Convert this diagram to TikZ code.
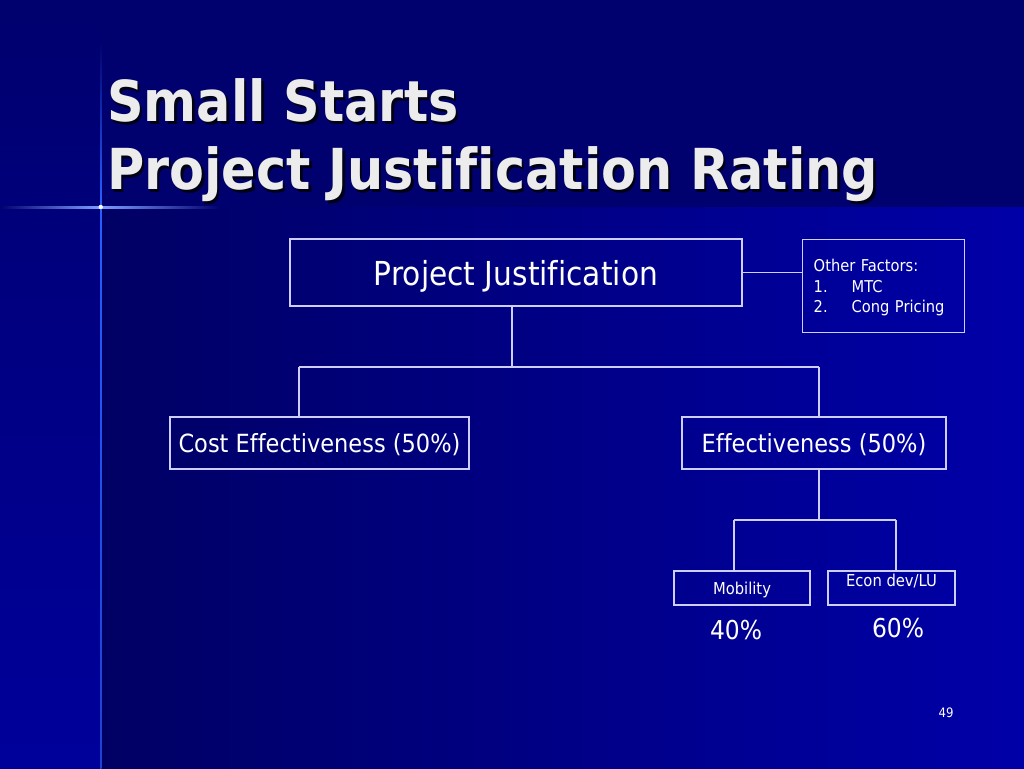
\documentclass[tikz,border=0pt]{standalone}
\usepackage{fontspec}
\setmainfont{DejaVu Sans}[FakeStretch=0.9,Ligatures=NoCommon]
\usepackage{tikz}
\usetikzlibrary{arrows,backgrounds}
\definecolor{slidenavy}{RGB}{0,0,110}
\definecolor{slidedark}{RGB}{0,0,100}
\definecolor{slideblue}{RGB}{0,0,168}
\definecolor{stripblue}{RGB}{0,0,155}
\definecolor{linelav}{RGB}{205,205,255}
\definecolor{titlegray}{RGB}{236,236,236}
\definecolor{glowblue}{RGB}{40,95,255}
\tikzset{frame/.style={draw=linelav,line width=1.4pt,text=white,inner sep=0pt},
         box/.style={frame,text depth=0pt},
         wire/.style={draw=linelav,line width=1.2pt},
         ttl/.style={anchor=base west,inner sep=0pt,font=\bfseries\fontsize{56.5}{60}\selectfont},}
\begin{document}
\begin{tikzpicture}[x=1pt,y=-1pt]
          \useasboundingbox (0,0) rectangle (1024,768);
          \shade [left color=slidedark,right color=slideblue] (100,207) rectangle (1024,768);
          \fill [slidenavy] (100,0) rectangle (1024,207);
          \shade [top color=slidenavy,bottom color=stripblue] (0,0) rectangle (100,768);
          \shade [top color=slidenavy,bottom color=glowblue] (100,40) rectangle (101.5,200);
          \shade [top color=glowblue,bottom color=glowblue!70!slidedark] (100,200) rectangle (101.5,768);
          \shade [left color=slidenavy,right color=glowblue!60!white] (0,206) rectangle (100,208);
          \shade [left color=glowblue!60!white,right color=slidenavy] (100,206) rectangle (220,208);
          \fill [white] (100.75,207) circle (2.2);
          \node [ttl,text=black!80!slidenavy] at (109.5,124) {Small Starts};
          \node [ttl,text=titlegray] (t1) at (107,121.5) {Small Starts};
          \node [ttl,text=black!80!slidenavy] at (109.5,192) {Project Justification Rating};
          \node [ttl,text=titlegray] (t2) at (107,189.5) {Project Justification Rating};
          \node [box,minimum width=452,minimum height=67,font=\fontsize{33}{40}\selectfont] (pj) at (516,272.5) {Project Justification};
          \node [frame,minimum width=162,minimum height=93,text width=162,align=left,anchor=north west,
                 font=\fontsize{16.3}{20.5}\selectfont] (other) at (802,239)
                {\rule{0pt}{15.5pt}\hspace*{11pt}Other Factors:\\\hspace*{11pt}\makebox[38pt][l]{1.}MTC\\\hspace*{11pt}\makebox[38pt][l]{2.}Cong Pricing};
          \node [box,minimum width=299,minimum height=52,font=\fontsize{25}{30}\selectfont] (cost) at (319.5,443) {Cost Effectiveness (50\%)};
          \node [box,minimum width=264,minimum height=52,font=\fontsize{25}{30}\selectfont] (eff) at (814,443) {Effectiveness (50\%)};
          \node [box,minimum width=136,minimum height=34,font=\fontsize{16.4}{18}\selectfont] (mob) at (742,588) {Mobility};
          \node [box,minimum width=127,minimum height=34,align=center,font=\fontsize{16.4}{18}\selectfont] (econ) at (891.5,588) {Econ dev/LU\\[-2pt]\mbox{}};
          \node [text=white,font=\fontsize{26}{30}\selectfont] (mobpct) at (736,630) {40\%};
          \node [text=white,font=\fontsize{26}{30}\selectfont] (econpct) at (898,628) {60\%};
          \node [text=white,font=\fontsize{13}{15}\selectfont] (page) at (946,713) {49};
          \coordinate (j1) at (512,367);
          \coordinate (jl) at (299,367);
          \coordinate (jr) at (819,367);
          \coordinate (j2) at (819,520);
          \coordinate (kl) at (734,520);
          \coordinate (kr) at (896,520);
          \draw [wire] (pj.east)--(other.west |- pj.east);
          \draw [wire] (pj.south -| j1)--(j1);
          \draw [wire] (jl)--(jr);
          \draw [wire] (jl)--(cost.north -| jl);
          \draw [wire] (jr)--(eff.north -| jr);
          \draw [wire] (eff.south -| j2)--(j2);
          \draw [wire] (kl)--(kr);
          \draw [wire] (kl)--(mob.north -| kl);
          \draw [wire] (kr)--(econ.north -| kr);
        \end{tikzpicture}
\end{document}
